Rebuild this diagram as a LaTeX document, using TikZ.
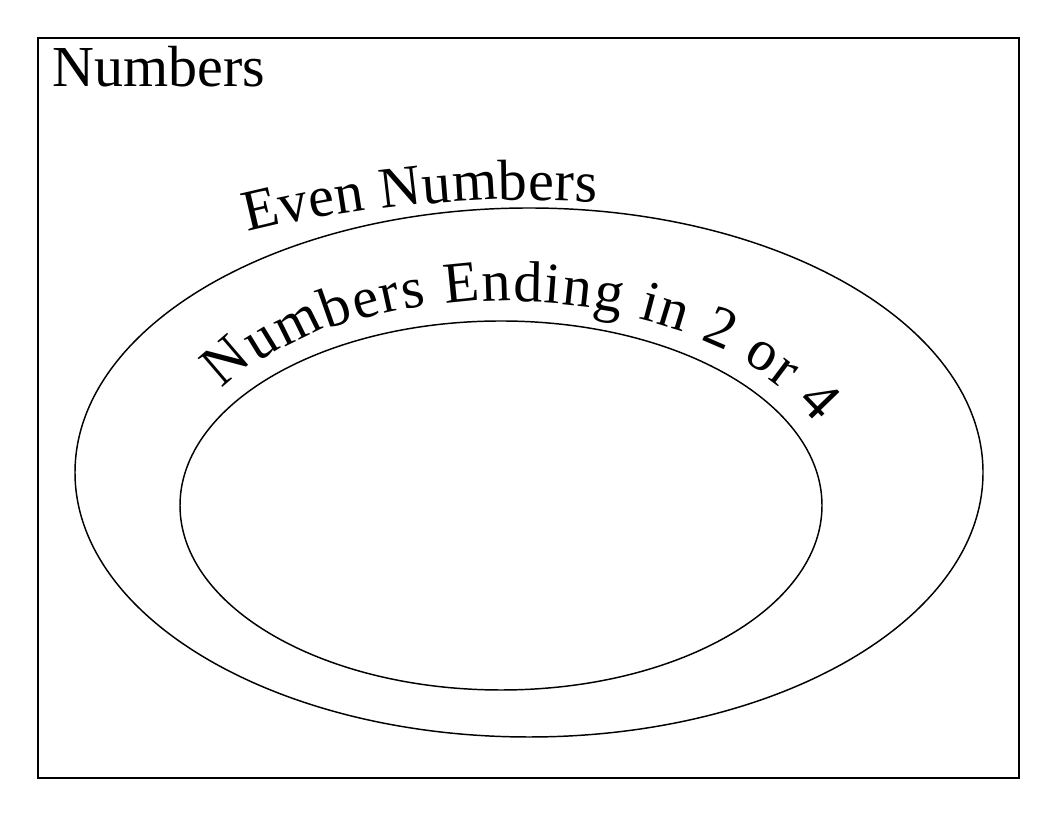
\documentclass[tikz,border=0pt]{standalone}
\usepackage{fontspec}
\setmainfont{Liberation Serif}
\newfontfamily\labelfont{Liberation Serif}
\usetikzlibrary{decorations.markings,calc}
\tikzset{
  shapeline/.style={draw=black, line width=1.1pt},
  labeltext/.style={font=\labelfont\fontsize{43.5}{50}\selectfont}
}
% coordinate pair (#1p, #1q) at arc length #2 along path #3
\newcommand\markpt[3]{%
  \path[decorate, decoration={markings,
    mark=at position {#2} with {\coordinate (#1p) at (0pt,0pt); \coordinate (#1q) at (10pt,0pt);}}] #3;}
\newcommand\outermark[2]{\markpt{#1}{#2}{(521.6,-586) ++(103.2:1202) arc[start angle=103.2, end angle=80, radius=1202]}}
\newcommand\innermark[2]{\markpt{#1}{#2}{(501,310.5) ++(145:341 and 204.5) arc[start angle=145, end angle=5, x radius=341, y radius=204.5]}}
% letter #2 on its base point, turned along the path
\newcommand\putletter[2]{%
  \path let \p1=($(#1q)-(#1p)$), \n1={atan2(\y1,\x1)} in
    node[labeltext, anchor=base west, inner sep=0pt, rotate=\n1] (#1) at (#1p) {#2};}
\begin{document}
\begin{tikzpicture}[x=0.75pt,y=0.75pt]
\useasboundingbox (0,0) rectangle (1056,816);
% universe
\draw[shapeline] (38,38) rectangle (1019,778);
\node[anchor=base west, inner sep=0pt, labeltext] (univ) at (52,729.3) {Numbers};
% outer set
\draw[shapeline] (529,343.5) ellipse [x radius=454, y radius=264.5];
% inner set
\draw[shapeline] (501,310.5) ellipse [x radius=321, y radius=184.5];
% "Even Numbers"
\outermark{ev1}{0pt}\putletter{ev1}{E}
\outermark{ev2}{26.98pt}\putletter{ev2}{v}
\outermark{ev3}{49.13pt}\putletter{ev3}{e}
\outermark{ev4}{68.84pt}\putletter{ev4}{n}
\outermark{ev6}{102.27pt}\putletter{ev6}{N}
\outermark{ev7}{134.08pt}\putletter{ev7}{u}
\outermark{ev8}{156.23pt}\putletter{ev8}{m}
\outermark{ev9}{190.47pt}\putletter{ev9}{b}
\outermark{ev10}{212.62pt}\putletter{ev10}{e}
\outermark{ev11}{232.33pt}\putletter{ev11}{r}
\outermark{ev12}{247.22pt}\putletter{ev12}{s}
% "Numbers Ending in 2 or 4"
\innermark{nd1}{0pt}\putletter{nd1}{N}
\innermark{nd2}{32.81pt}\putletter{nd2}{u}
\innermark{nd3}{55.96pt}\putletter{nd3}{m}
\innermark{nd4}{91.20pt}\putletter{nd4}{b}
\innermark{nd5}{114.35pt}\putletter{nd5}{e}
\innermark{nd6}{135.06pt}\putletter{nd6}{r}
\innermark{nd7}{150.95pt}\putletter{nd7}{s}
\innermark{nd9}{181.55pt}\putletter{nd9}{E}
\innermark{nd10}{209.53pt}\putletter{nd10}{n}
\innermark{nd11}{232.68pt}\putletter{nd11}{d}
\innermark{nd12}{255.83pt}\putletter{nd12}{i}
\innermark{nd13}{269.32pt}\putletter{nd13}{n}
\innermark{nd14}{292.47pt}\putletter{nd14}{g}
\innermark{nd16}{327.90pt}\putletter{nd16}{i}
\innermark{nd17}{341.39pt}\putletter{nd17}{n}
\innermark{nd19}{376.82pt}\putletter{nd19}{2}
\innermark{nd21}{412.24pt}\putletter{nd21}{o}
\innermark{nd22}{435.39pt}\putletter{nd22}{r}
\innermark{nd24}{463.55pt}\putletter{nd24}{4}
\end{tikzpicture}
\end{document}
